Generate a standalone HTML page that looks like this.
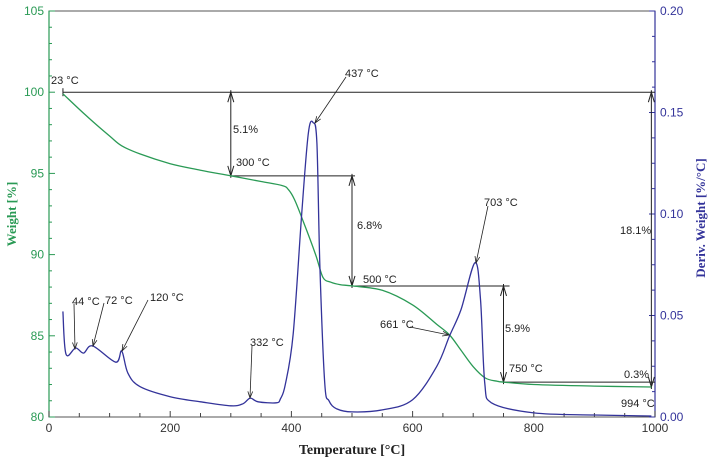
<!DOCTYPE html>
<html><head><meta charset="utf-8"><style>
body{margin:0;background:#fff;}
svg{display:block;font-family:"Liberation Sans",sans-serif;}
</style></head><body>
<svg id="chart" width="719" height="462" viewBox="0 0 719 462" xmlns="http://www.w3.org/2000/svg"></svg>
<script>
const xTicks=[0,200,400,600,800,1000];
const wTicks=[80,85,90,95,100,105];
const dTicks=[0.00,0.05,0.10,0.15,0.20];
const dTickLabels=["0.00","0.05","0.10","0.15","0.20"];
const weightT=[23,60,100,120,150,200,250,300,350,385,395,405,420,440,452,465,480,500,550,600,640,661,680,700,720,740,750,800,900,994];
const weightV=[99.9,98.6,97.3,96.7,96.2,95.6,95.2,94.85,94.5,94.25,94.0,93.4,92.0,90.0,88.6,88.3,88.15,88.07,87.8,86.9,85.7,85.05,84.1,83.1,82.4,82.2,82.15,82.0,81.9,81.85];
const derivT=[23,28,44,57,72,110,120,130,150,200,250,300,320,332,345,375,382,390,403,417,428,436,442,447,455,462,475,500,550,600,640,661,680,703,712,719,730,800,900,994];
const derivV=[0.052,0.031,0.034,0.0315,0.035,0.027,0.0325,0.0217,0.015,0.010,0.0075,0.0055,0.0065,0.0093,0.0075,0.007,0.009,0.016,0.041,0.100,0.14,0.145,0.135,0.074,0.017,0.008,0.004,0.0025,0.0035,0.0085,0.025,0.040,0.053,0.076,0.058,0.017,0.007,0.002,0.001,0.0005];

const L=49,R=655,T=11,B=417;
const sx=t=>L+(t/1000)*(R-L);
const sw=w=>B-(w-80)/25*(B-T);
const sd=d=>B-d/0.2*(B-T);
const svg=document.getElementById('chart');
const NS="http://www.w3.org/2000/svg";
function mk(tag,attrs,parent){const e=document.createElementNS(NS,tag);for(const k in attrs)e.setAttribute(k,attrs[k]);(parent||svg).appendChild(e);return e;}
const G="#2a9a55",BL="#33339a";

let e=mk('rect',{x:L,y:T,width:R-L,height:B-T,fill:'none',stroke:'#555','stroke-width':1});

mk('line',{x1:L,y1:T,x2:L,y2:B,stroke:G,'stroke-width':1.2});
mk('line',{x1:R,y1:T,x2:R,y2:B,stroke:BL,'stroke-width':1.2});

for(let t=0;t<=1000;t+=50){mk('line',{x1:sx(t),y1:B,x2:sx(t),y2:B-(t%200===0?6:4),stroke:'#444'});}
xTicks.forEach(t=>{const tx=mk('text',{x:sx(t),y:B+15,'text-anchor':'middle','font-size':12,fill:'#333'});tx.textContent=t;
});
for(let w=80;w<=105;w+=1){mk('line',{x1:L,y1:sw(w),x2:L+(w%5===0?6:3),y2:sw(w),stroke:G});}
wTicks.forEach(w=>{const tx=mk('text',{x:L-5,y:sw(w)+4,'text-anchor':'end','font-size':12,fill:G});tx.textContent=w;
});
for(let i=0;i<=16;i++){const d=i*0.0125;mk('line',{x1:R,y1:sd(d),x2:R-(i%4===0?6:3),y2:sd(d),stroke:BL});}
dTicks.forEach((d,i)=>{const tx=mk('text',{x:R+5,y:sd(d)+4,'font-size':12,fill:BL});tx.textContent=dTickLabels[i];
});

e=mk('text',{x:(L+R)/2,y:454,'text-anchor':'middle','font-size':14,'font-weight':'bold','font-family':'Liberation Serif,serif',fill:'#222'});
e.textContent='Temperature [°C]';
e=mk('text',{x:16,y:214,'text-anchor':'middle','font-size':13,'font-weight':'bold','font-family':'Liberation Serif,serif',fill:G,transform:'rotate(-90 16 214)'});
e.textContent='Weight [%]';
e=mk('text',{x:705,y:218,'text-anchor':'middle','font-size':13,'font-weight':'bold','font-family':'Liberation Serif,serif',fill:BL,transform:'rotate(-90 705 218)'});
e.textContent='Deriv. Weight [%/°C]';

function hl(t1,t2,w){mk('line',{x1:sx(t1),y1:sw(w),x2:sx(t2),y2:sw(w),stroke:'#222','stroke-width':1});}
hl(23,1000,100);hl(300,505,94.85);hl(500,760,88.07);hl(750,1000,82.15);
function va(t,w1,w2,name){const x=sx(t),y1=sw(w1),y2=sw(w2);
const g=mk('g',{stroke:'#222','stroke-width':1,fill:'none'});
mk('line',{x1:x,y1:y1-2,x2:x,y2:y2+2},g);
mk('polyline',{points:`${x-3},${y1+10} ${x},${y1} ${x+3},${y1+10}`},g);
mk('polyline',{points:`${x-3},${y2-10} ${x},${y2} ${x+3},${y2-10}`},g);}
va(300,100,94.85,'arrow-5-1');va(500,94.85,88.07,'arrow-6-8');va(750,88.07,82.15,'arrow-5-9');va(994,100,81.85,'arrow-18-1');
mk('line',{x1:sx(23),y1:sw(100)-4,x2:sx(23),y2:sw(100)+4,stroke:'#222'});

function path(ts,vs,sy,col,name){
const P=ts.map((t,i)=>[sx(t),sy(vs[i])]);
let d='M'+P[0][0].toFixed(1)+','+P[0][1].toFixed(1);
for(let i=0;i<P.length-1;i++){const p0=P[Math.max(0,i-1)],p1=P[i],p2=P[i+1],p3=P[Math.min(P.length-1,i+2)];
const k=1/6;
const c1=[p1[0]+(p2[0]-p0[0])*k,p1[1]+(p2[1]-p0[1])*k];
const c2=[p2[0]-(p3[0]-p1[0])*k,p2[1]-(p3[1]-p1[1])*k];
c1[0]=Math.min(Math.max(c1[0],p1[0]),p2[0]);c2[0]=Math.min(Math.max(c2[0],p1[0]),p2[0]);
d+=`C${c1[0].toFixed(1)},${c1[1].toFixed(1)} ${c2[0].toFixed(1)},${c2[1].toFixed(1)} ${p2[0].toFixed(1)},${p2[1].toFixed(1)}`;}
const p=mk('path',{d:d,fill:'none',stroke:col,'stroke-width':1.3,'stroke-linejoin':'round'});}
path(weightT,weightV,sw,G,'weight-curve');
path(derivT,derivV,sd,BL,'deriv-curve');

function ptr(x1,y1,x2,y2){mk('line',{x1,y1,x2,y2,stroke:'#222','stroke-width':0.8});
const a=Math.atan2(y2-y1,x2-x1),s=7;
mk('polyline',{points:`${x2-s*Math.cos(a-0.35)},${y2-s*Math.sin(a-0.35)} ${x2},${y2} ${x2-s*Math.cos(a+0.35)},${y2-s*Math.sin(a+0.35)}`,fill:'none',stroke:'#222','stroke-width':0.8});}
ptr(74,304,75,349);ptr(104,303,93,346);ptr(148,300,122,351);ptr(252,346,250,398);ptr(346,77,315,123);ptr(488,206,476,263);ptr(410,327,449,335);

const labels=[["23 °C",51,84],["5.1%",233,133],["300 °C",236,166],["6.8%",357,229],["500 °C",363,283],["437 °C",345,77],["703 °C",484,206],["661 °C",380,328],["5.9%",505,332],["750 °C",509,372],["0.3%",624,378],["18.1%",620,234],["994 °C",621,407],["44 °C",72,305],["72 °C",105,304],["120 °C",150,301],["332 °C",250,346]];
labels.forEach(l=>{const tx=mk('text',{x:l[1],y:l[2],'font-size':11,fill:'#222'});tx.textContent=l[0];
});
</script>
</body></html>
